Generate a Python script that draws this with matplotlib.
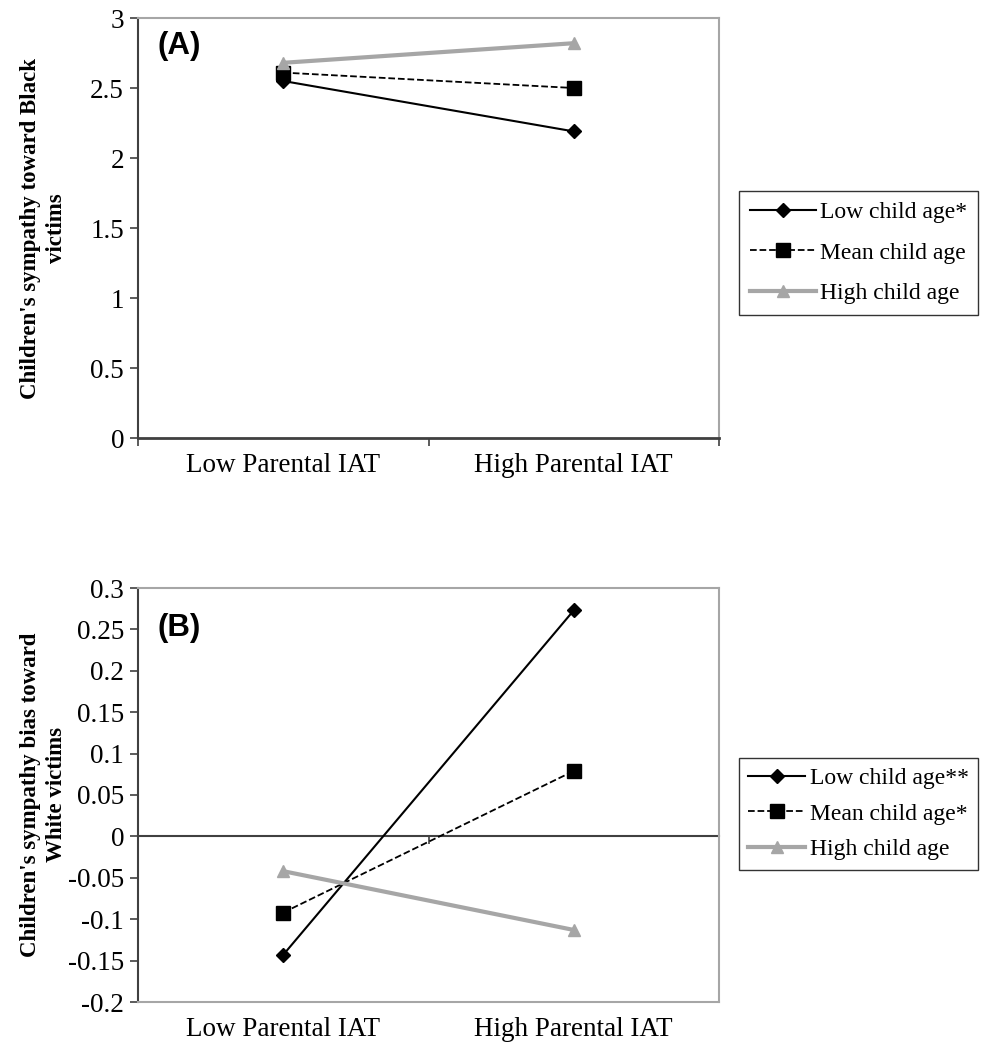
import numpy as np
import matplotlib
matplotlib.use('Agg')
import matplotlib.pyplot as plt
from matplotlib import rcParams

rcParams['font.family'] = 'Liberation Serif'
rcParams['axes.unicode_minus'] = False

# data
groups = ['Low Parental IAT', 'High Parental IAT']
series = ['Low child age', 'Mean child age', 'High child age']

sym_black_low = [2.55, 2.19]
sym_black_mean = [2.61, 2.50]
sym_black_high = [2.68, 2.82]
legend_a = ['Low child age*', 'Mean child age', 'High child age']

bias_white_low = [-0.143, 0.273]
bias_white_mean = [-0.092, 0.079]
bias_white_high = [-0.042, -0.113]
legend_b = ['Low child age**', 'Mean child age*', 'High child age']

ticks_a = [0, 0.5, 1, 1.5, 2, 2.5, 3]
ticks_b = [-0.2, -0.15, -0.1, -0.05, 0, 0.05, 0.1, 0.15, 0.2, 0.25, 0.3]

dark = '#404040'
light = '#a6a6a6'
W, H = 990, 1048

styles = [dict(color='black', ls='-', lw=1.5, marker='D', ms=7),
          dict(color='black', ls='--', lw=1.3, marker='s', ms=9.5),
          dict(color=light, ls='-', lw=3, marker='^', ms=9)]


def setup(ax, ylim, yticks, ylab, tag, tagy):
    xs = np.arange(len(groups)) + 0.5
    ax.set_xlim(0, 2)
    ax.set_ylim(*ylim)
    ax.set_yticks(yticks)
    ax.set_yticklabels(['{:g}'.format(t) for t in yticks])
    ax.set_xticks([0, 1, 2])
    ax.set_xticklabels([])
    ax.set_xticks(xs, minor=True)
    ax.set_xticklabels(groups, minor=True)
    ax.tick_params(axis='x', which='minor', length=0, pad=11, labelsize=19.5)
    ax.tick_params(axis='y', length=6, width=1.2, color=dark, labelsize=19.5, pad=4)
    ax.tick_params(axis='x', which='major', length=6, width=1.2, color=dark)
    for s in ['top', 'right']:
        ax.spines[s].set_color(light)
        ax.spines[s].set_linewidth(1.5)
    ax.spines['left'].set_color(dark)
    ax.spines['left'].set_linewidth(1.5)
    ax.spines['bottom'].set_color(dark)
    ax.spines['bottom'].set_linewidth(2)
    ax.set_ylabel(ylab, fontsize=16.5, fontweight='bold', linespacing=1.3)
    ax.yaxis.set_label_coords(-0.123, 0.5)
    ax.text(0.033, tagy, tag, transform=ax.transAxes, fontsize=22.5,
            fontweight='bold', family='Liberation Sans', va='top', ha='left')
    return xs


fig = plt.figure(figsize=(W / 100, H / 100), dpi=100)

# panel A
ax1 = fig.add_axes([138 / W, 1 - 438 / H, 581 / W, 420 / H])
xs = setup(ax1, (0, 3), ticks_a, "Children's sympathy toward Black\nvictims", '(A)', 0.968)
for vals, st, lab in zip([sym_black_low, sym_black_mean, sym_black_high], styles, legend_a):
    ax1.plot(xs, vals, label=lab, **st)
leg1 = ax1.legend(loc='upper left', bbox_to_anchor=(739 / W, 1 - 191 / H),
                  bbox_transform=fig.transFigure, fontsize=17, frameon=True,
                  fancybox=False, edgecolor='black', handlelength=2.8,
                  handletextpad=0.2, labelspacing=0.8, borderpad=0.45,
                  borderaxespad=0)
leg1.get_frame().set_linewidth(1.0)

# panel B
ax2 = fig.add_axes([138 / W, 1 - 1002 / H, 581 / W, 414 / H])
xs = setup(ax2, (-0.2, 0.3), ticks_b, "Children's sympathy bias toward\nWhite victims", '(B)', 0.94)
ax2.spines['bottom'].set_color(light)
ax2.spines['bottom'].set_linewidth(1.5)
ax2.tick_params(axis='x', which='major', length=0)
zero_pos = (0 - ax2.get_ylim()[0]) / (ax2.get_ylim()[1] - ax2.get_ylim()[0])
sec = ax2.secondary_xaxis(zero_pos)
sec.set_xticks([0, 1, 2])
sec.set_xticklabels([])
sec.tick_params(length=6, width=1.2, color=dark)
for s in sec.spines.values():
    s.set_color(dark)
    s.set_linewidth(1.5)
for vals, st, lab in zip([bias_white_low, bias_white_mean, bias_white_high], styles, legend_b):
    ax2.plot(xs, vals, label=lab, **st)
leg2 = ax2.legend(loc='upper left', bbox_to_anchor=(739 / W, 1 - 758 / H),
                  bbox_transform=fig.transFigure, fontsize=17, frameon=True,
                  fancybox=False, edgecolor='black', handlelength=2.4,
                  handletextpad=0.2, labelspacing=0.6, borderpad=0.4,
                  borderaxespad=0)
leg2.get_frame().set_linewidth(1.0)

plt.savefig('out.png', dpi=100)
